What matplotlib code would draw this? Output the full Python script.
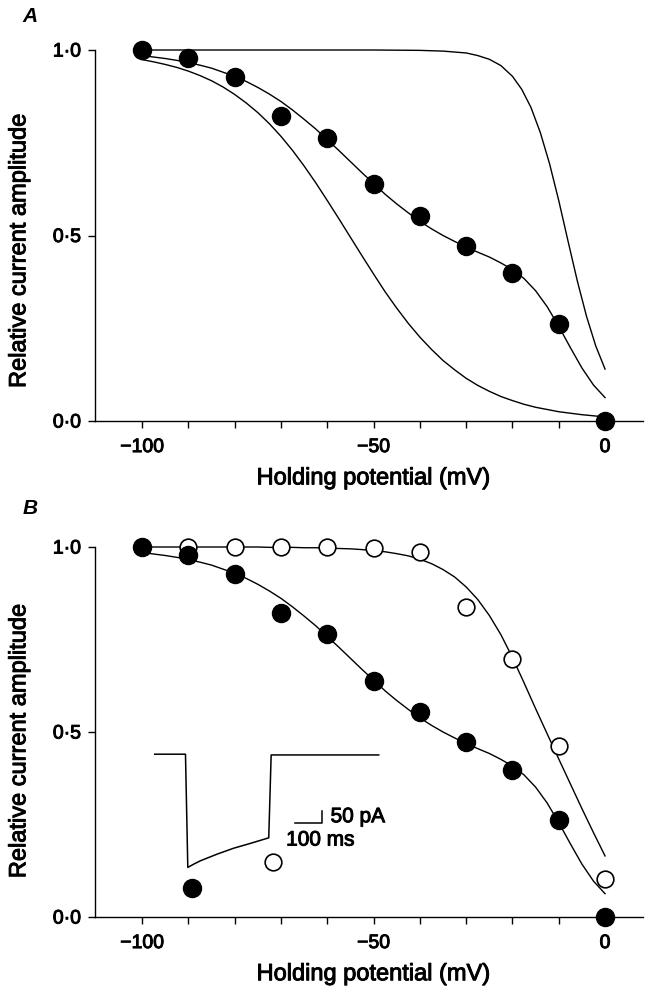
import matplotlib
matplotlib.use("Agg")
import matplotlib.pyplot as plt
import matplotlib.patheffects as pe

plt.rcParams['font.family'] = ['Liberation Sans', 'DejaVu Sans']

# ---------------- data ----------------
# holding potentials of the measured points (mV)
volt = [-100, -90, -80, -70, -60, -50, -40, -30, -20, -10, 0]
# filled circles (same data in A and B)
filled = [1.0, 0.979, 0.928, 0.822, 0.764, 0.638, 0.553, 0.473, 0.398, 0.261, 0.0]
# open circles (panel B)
opened = [1.0, 1.0, 0.999, 0.999, 0.999, 0.998, 0.987, 0.837, 0.696, 0.462, 0.102]

# fitted curves
curve_v = [-100, -97.5, -95, -92.5, -90, -87.5, -85, -82.5, -80, -77.5, -75, -72.5,
           -70, -67.5, -65, -62.5, -60, -57.5, -55, -52.5, -50, -47.5, -45, -42.5,
           -40, -37.5, -35, -32.5, -30, -27.5, -25, -22.5, -20, -17.5, -15, -12.5,
           -10, -7.5, -5, -2.5, 0]
lower_curve = [0.974, 0.968, 0.961, 0.953, 0.943, 0.931, 0.917, 0.900, 0.880, 0.857,
               0.831, 0.801, 0.767, 0.729, 0.687, 0.642, 0.594, 0.545, 0.495, 0.445,
               0.396, 0.348, 0.304, 0.263, 0.226, 0.193, 0.163, 0.138, 0.115, 0.096,
               0.080, 0.066, 0.055, 0.045, 0.037, 0.031, 0.025, 0.021, 0.017, 0.014,
               0.011]
middle_curve = [0.985, 0.981, 0.977, 0.972, 0.966, 0.959, 0.951, 0.940, 0.929, 0.915,
                0.899, 0.881, 0.861, 0.838, 0.813, 0.787, 0.758, 0.729, 0.699, 0.669,
                0.640, 0.611, 0.585, 0.561, 0.538, 0.518, 0.500, 0.484, 0.469, 0.455,
                0.442, 0.426, 0.408, 0.384, 0.351, 0.308, 0.255, 0.198, 0.143, 0.097,
                0.063]
open_curve = [1.0, 1.0, 1.0, 1.0, 1.0, 1.0, 1.0, 1.0, 1.0, 1.0,
              1.0, 0.999, 0.999, 0.999, 0.998, 0.998, 0.997, 0.996, 0.995, 0.993,
              0.990, 0.987, 0.982, 0.976, 0.967, 0.955, 0.939, 0.919, 0.892, 0.858,
              0.815, 0.763, 0.701, 0.633, 0.563, 0.495, 0.427, 0.360, 0.293, 0.228,
              0.165]
upper_v = [-100, -60, -50, -40, -35, -30, -27.5, -25, -22.5, -20, -18, -16, -14, -12,
           -10, -8, -6, -4, -2, 0]
upper_curve = [1.0, 1.0, 1.0, 0.999, 0.997, 0.992, 0.985, 0.975, 0.958, 0.929, 0.894,
               0.845, 0.778, 0.694, 0.594, 0.485, 0.378, 0.282, 0.202, 0.140]

# inset current trace (panel B, drawn in data units)
trace_x = [-97.3, -90.65, -90.15, -88.85, -87.41, -83.8, -80.22, -76.61, -72.66,
           -72.14, -48.9]
trace_y = [0.440, 0.440, 0.134, 0.143, 0.152, 0.170, 0.186, 0.199, 0.214, 0.438, 0.438]
inset_filled = (-89.2, 0.078)
inset_open = (-71.8, 0.149)
scalebar_x = [-67.0, -61.1, -61.1]
scalebar_y = [0.253, 0.253, 0.287]

xticks = list(range(-100, 1, 10))
xticklabels = ['\u2212100', '', '', '', '', '\u221250', '', '', '', '', '0']
yticks = [0.0, 0.5, 1.0]
yticklabels = ['0\u00b70', '0\u00b75', '1\u00b70']

# ---------------- figure ----------------
W, H = 647, 991
fig = plt.figure(figsize=(W / 100, H / 100), dpi=100)
heavy = [pe.withStroke(linewidth=0.7, foreground='black')]

def make_axes(top_px, bot_px):
    left_px, right_px = 95, 643
    return fig.add_axes([left_px / W, (H - bot_px) / H,
                         (right_px - left_px) / W, (bot_px - top_px) / H])

axA = make_axes(50, 421)
axB = make_axes(547, 917)

lw = 1.0
for ax in (axA, axB):
    ax.set_xlim(-110.2, 8.2)
    ax.set_ylim(0, 1.0)
    for s in ('top', 'right'):
        ax.spines[s].set_visible(False)
    for s in ('left', 'bottom'):
        ax.spines[s].set_linewidth(1.0)
    ax.set_xticks(xticks)
    ax.set_xticklabels(xticklabels)
    ax.set_yticks(yticks)
    ax.set_yticklabels(yticklabels)
    ax.tick_params(axis='both', direction='out', length=5, width=1.0,
                   labelsize=14)
    ax.tick_params(axis='x', pad=8)
    ax.tick_params(axis='y', pad=5)
    ax.set_xlabel('Holding potential (mV)', fontsize=17, path_effects=heavy)
    ax.set_ylabel('Relative current amplitude', fontsize=17, path_effects=heavy)
    ax.xaxis.set_label_coords(0.509, -0.125)
    for t in ax.get_xticklabels() + ax.get_yticklabels():
        t.set_path_effects(heavy)

axA.yaxis.set_label_coords(-0.118, 0.46)
axB.yaxis.set_label_coords(-0.118, 0.477)

# panel A
axA.plot(upper_v, upper_curve, color='black', lw=lw, clip_on=False)
axA.plot(curve_v, middle_curve, color='black', lw=lw, clip_on=False)
axA.plot(curve_v, lower_curve, color='black', lw=lw, clip_on=False)
axA.plot(volt, filled, 'o', color='black', ms=13, clip_on=False, zorder=5)

# panel B
axB.plot(curve_v, open_curve, color='black', lw=lw, clip_on=False)
axB.plot(curve_v, middle_curve, color='black', lw=lw, clip_on=False)
axB.plot(volt, opened, 'o', mfc='white', mec='black', mew=1.2, ms=12,
         clip_on=False, zorder=5)
axB.plot(volt, filled, 'o', color='black', ms=13, clip_on=False, zorder=6)

# inset trace
axB.plot(trace_x, trace_y, color='black', lw=1.1)
axB.plot(*inset_filled, 'o', color='black', ms=13, zorder=5)
axB.plot(*inset_open, 'o', mfc='white', mec='black', mew=1.2, ms=12, zorder=5)
axB.plot(scalebar_x, scalebar_y, color='black', lw=1.1)
axB.text(-59.3, 0.271, '50 pA', fontsize=15, ha='left', va='center', path_effects=heavy)
axB.text(-68.9, 0.208, '100 ms', fontsize=15, ha='left', va='center', path_effects=heavy)

fig.text(30 / W, 1 - 17 / H, 'A', fontsize=15, style='italic', weight='bold',
         ha='center', va='center')
fig.text(30 / W, 1 - 508 / H, 'B', fontsize=15, style='italic', weight='bold',
         ha='center', va='center')

fig.savefig('out.png', dpi=100)
